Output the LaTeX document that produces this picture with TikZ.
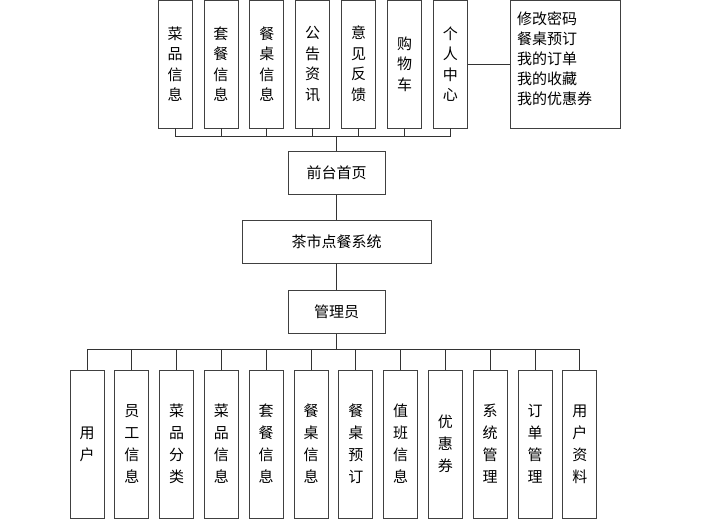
\documentclass[tikz,border=0pt]{standalone}
\usepackage{fontspec}
\newfontfamily\cjk{Noto Sans CJK SC}
\begin{document}
\begin{tikzpicture}[x=1pt, y=-1pt,
    box/.style={draw=black!75, line width=0.8pt, inner sep=0pt, font=\cjk\fontsize{15}{20.5}\selectfont, align=center},
    vbox/.style={box, minimum width=34pt, minimum height=128pt},
    lbox/.style={vbox, minimum height=148pt, font=\cjk\fontsize{15}{22}\selectfont},
    hbox/.style={box, minimum width=97pt, minimum height=43pt},
    link/.style={draw=black!80, line width=0.8pt}
]
\useasboundingbox (0,0) rectangle (720,521);

% 前台
\foreach \t [count=\i] in {菜\\品\\信\\息, 套\\餐\\信\\息, 餐\\桌\\信\\息, 公\\告\\资\\讯, 意\\见\\反\\馈, 购\\物\\车, 个\\人\\中\\心}
    \node[vbox] (top-\i) at ({175+(\i-1)*45.9},64) {\t};
\node[box, minimum width=110pt, minimum height=128pt] (mine) at (565,64) {};
\node[anchor=north west, inner sep=0pt, align=left, font=\cjk\fontsize{15}{20}\selectfont] (mine-text) at (517,12)
    {修改密码\\餐桌预订\\我的订单\\我的收藏\\我的优惠券};
\draw[link] (top-7) -- (mine.west |- top-7);

\node[hbox] (front) at (336.5,173) {前台首页};
\node[hbox, minimum width=189pt] (sys) at (336.5,241.5) {茶市点餐系统};
\node[hbox] (admin) at (336.5,312) {管理员};

\coordinate (busT) at (0,136);
\draw[link] (top-1.south) |- (busT -| top-7.south) -- (top-7.south);
\foreach \i in {2,...,6}
    \draw[link] (top-\i.south) -- (top-\i.south |- busT);
\draw[link] (front.north |- busT) -- (front);
\draw[link] (front) -- (sys);
\draw[link] (sys) -- (admin);

% 后台
\foreach \t [count=\i] in {用\\户, 员\\工\\信\\息, 菜\\品\\分\\类, 菜\\品\\信\\息, 套\\餐\\信\\息, 餐\\桌\\信\\息, 餐\\桌\\预\\订, 值\\班\\信\\息, 优\\惠\\券, 系\\统\\管\\理, 订\\单\\管\\理, 用\\户\\资\\料}
    \node[lbox] (low-\i) at ({87+(\i-1)*44.8},444) {\t};
\coordinate (busB) at (0,349);
\draw[link] (low-1.north) |- (busB -| low-12.north) -- (low-12.north);
\foreach \i in {2,...,11}
    \draw[link] (low-\i.north) -- (low-\i.north |- busB);
\draw[link] (admin) -- (admin.south |- busB);
\end{tikzpicture}
\end{document}
